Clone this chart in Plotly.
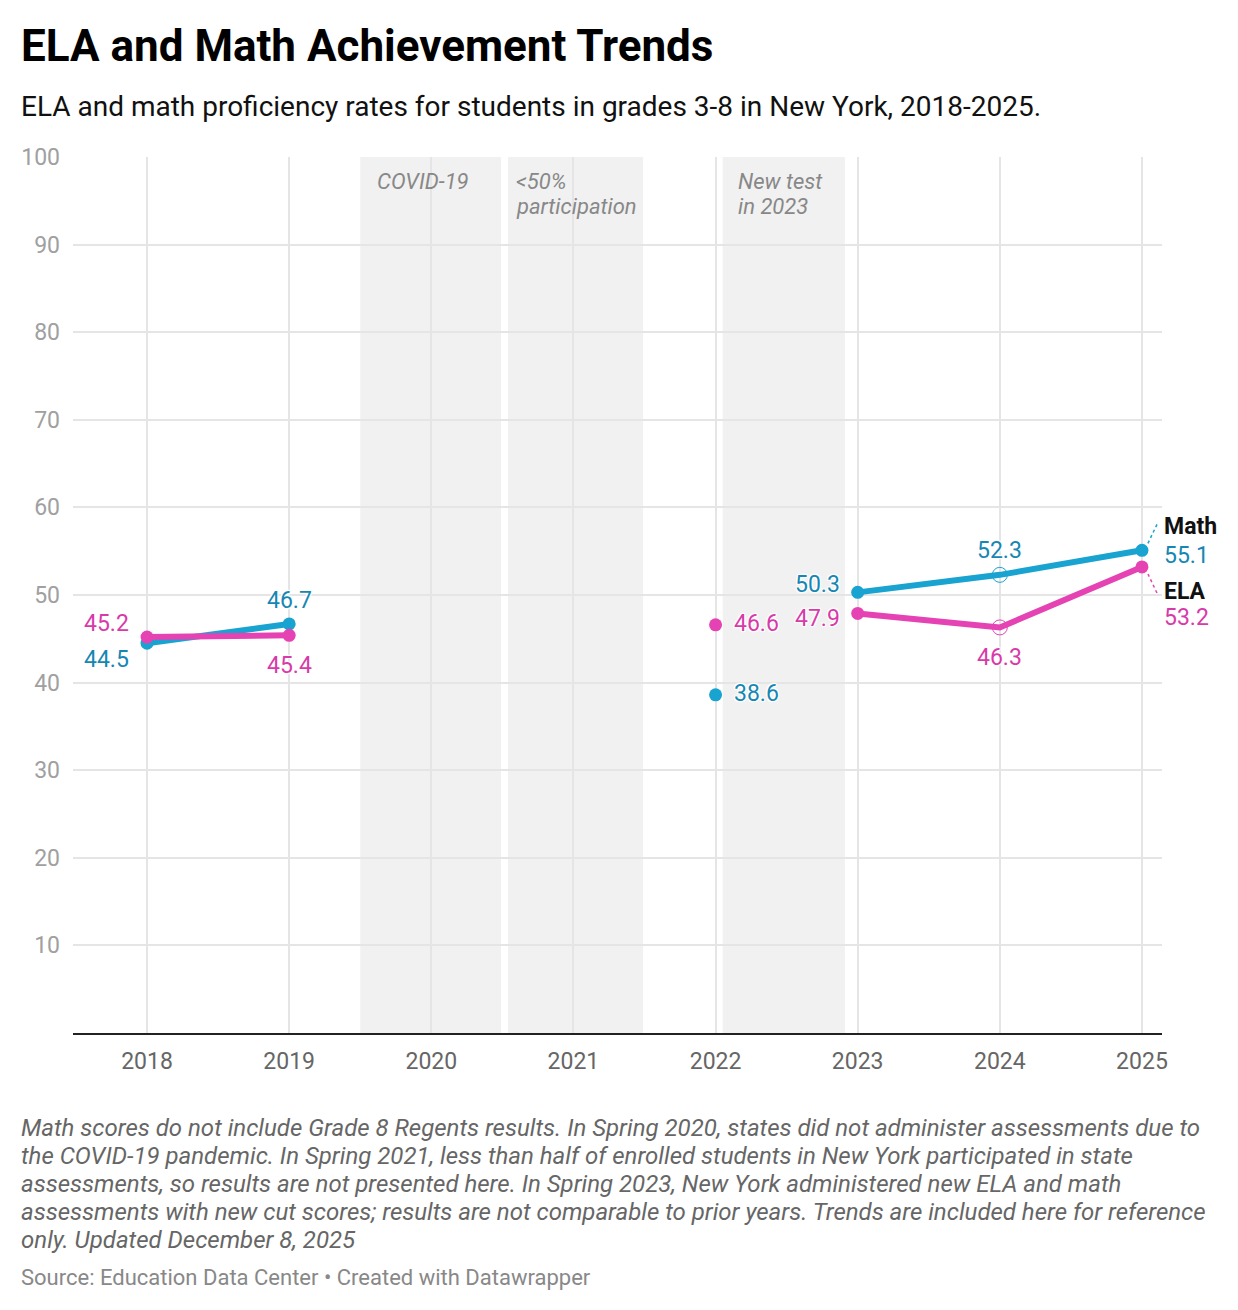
import plotly.graph_objects as go

# --- data ---
years = [2018, 2019, 2020, 2021, 2022, 2023, 2024, 2025]
math = [44.5, 46.7, None, None, 38.6, 50.3, 52.3, 55.1]
ela = [45.2, 45.4, None, None, 46.6, 47.9, 46.3, 53.2]
y_ticks = [10, 20, 30, 40, 50, 60, 70, 80, 90, 100]
# years that are joined by a line (test changes break the series)
segments = [[2018, 2019], [2022], [2023, 2024, 2025]]
hollow_years = [2024]

# shaded periods: (start, end, label lines)
bands = [
    (2019.5, 2020.49, ["COVID-19"]),
    (2020.54, 2021.49, ["<50%", "participation"]),
    (2022.05, 2022.91, ["New test", "in 2023"]),
]
band_text_shift = [15, 6, 13]

notes = [
    "Math scores do not include Grade 8 Regents results. In Spring 2020, states did not administer assessments due to",
    "the COVID-19 pandemic. In Spring 2021, less than half of enrolled students in New York participated in state",
    "assessments, so results are not presented here. In Spring 2023, New York administered new ELA and math",
    "assessments with new cut scores; results are not comparable to prior years. Trends are included here for reference",
    "only. Updated December 8, 2025",
]

MATH_LINE = "#18a3d0"
ELA_LINE = "#e543b3"
MATH_TXT = "#1687b3"
ELA_TXT = "#d83aa9"
FONT = "Roboto"
HALO = "1px 1px 1px white, -1px -1px 1px white, 1px -1px 1px white, -1px 1px 1px white, 0 0 3px white"

# the page body adds an 8px margin, so the figure is drawn 8px smaller/shifted
OFF = 8
W, H = 1238 - OFF, 1310 - OFF
L, R, T, B = 73 - OFF, 76, 157 - OFF, 277
plot_h = H - T - B


def py(pix):
    # pixel y on the screenshot -> paper y
    return (H - B - (pix - OFF)) / plot_h


def px(pix):
    return (pix - OFF - L) / (W - L - R)


fig = go.Figure()

# shaded bands
for (x0, x1, lines), shift in zip(bands, band_text_shift):
    fig.add_shape(type="rect", xref="x", yref="y", x0=x0, x1=x1, y0=0, y1=100,
                  fillcolor="#f1f1f1", line_width=0, layer="below")
    for i, lab in enumerate(lines):
        fig.add_annotation(x=x0, y=py(181 + 26 * i), xref="x", yref="paper", text=lab, showarrow=False,
                           xanchor="left", yanchor="middle", xshift=shift,
                           font=dict(family=FONT, size=22, color="#888888", style="italic"))

# lines, one trace per connected segment
for vals, col in [(math, MATH_LINE), (ela, ELA_LINE)]:
    lookup = dict(zip(years, vals))
    for seg in segments:
        if len(seg) < 2:
            continue
        fig.add_trace(go.Scatter(
            x=seg, y=[lookup[y] for y in seg], mode="lines",
            line=dict(color=col, width=6), hoverinfo="skip", showlegend=False,
        ))

# markers
for vals, col in [(math, MATH_LINE), (ela, ELA_LINE)]:
    xs = [y for y, v in zip(years, vals) if v is not None]
    ys = [v for v in vals if v is not None]
    fig.add_trace(go.Scatter(
        x=xs, y=ys, mode="markers",
        marker=dict(color=col, opacity=1,
                    size=[15 if y in hollow_years else 13 for y in xs],
                    symbol=["circle-open" if y in hollow_years else "circle" for y in xs],
                    line=dict(width=[1 if y in hollow_years else 0 for y in xs], color=col)),
        hoverinfo="skip", showlegend=False,
    ))

# data labels: year -> (xanchor, xshift, yshift)
math_pos = {2018: ("right", -16, -16), 2019: ("center", 0, 23), 2022: ("left", 16, 1),
            2023: ("right", -16, 8), 2024: ("center", 0, 24), 2025: ("left", 20, -5)}
ela_pos = {2018: ("right", -16, 14), 2019: ("center", 0, -30), 2022: ("left", 16, 1),
           2023: ("right", -16, -5), 2024: ("center", 0, -30), 2025: ("left", 20, -51)}

for vals, pos, col in [(math, math_pos, MATH_TXT), (ela, ela_pos, ELA_TXT)]:
    for yr, v in zip(years, vals):
        if v is None:
            continue
        xa, xs, ys = pos[yr]
        fig.add_annotation(x=yr, y=v, text=f"{v:.1f}", showarrow=False, xanchor=xa,
                           yanchor="middle", xshift=xs, yshift=ys,
                           font=dict(family=FONT, size=23, color=col, shadow=HALO))

# series names at the line ends
fig.add_annotation(x=years[-1], y=math[-1], text="<b>Math</b>", showarrow=False, xanchor="left",
                   xshift=20, yshift=24, font=dict(family=FONT, size=23, color="#111111", shadow=HALO))
fig.add_annotation(x=years[-1], y=ela[-1], text="<b>ELA</b>", showarrow=False, xanchor="left",
                   xshift=20, yshift=-25, font=dict(family=FONT, size=23, color="#111111", shadow=HALO))

# dotted leaders
fig.add_shape(type="line", xref="x", yref="y", xsizemode="pixel", ysizemode="pixel",
              xanchor=years[-1], yanchor=math[-1], x0=6, y0=7, x1=16, y1=28,
              line=dict(color=MATH_LINE, width=1.5, dash="dot"))
fig.add_shape(type="line", xref="x", yref="y", xsizemode="pixel", ysizemode="pixel",
              xanchor=years[-1], yanchor=ela[-1], x0=6, y0=-7, x1=15, y1=-26,
              line=dict(color=ELA_LINE, width=1.5, dash="dot"))

# title, subtitle, notes
fig.add_annotation(xref="paper", yref="paper", x=px(19), y=py(46), text="<b>ELA and Math Achievement Trends</b>",
                   showarrow=False, xanchor="left", yanchor="middle",
                   font=dict(family=FONT, size=44, color="#000000"))
fig.add_annotation(xref="paper", yref="paper", x=px(19), y=py(106),
                   text="ELA and math proficiency rates for students in grades 3-8 in New York, 2018-2025.",
                   showarrow=False, xanchor="left", yanchor="middle",
                   font=dict(family=FONT, size=28, color="#111111"))

for i, line in enumerate(notes):
    fig.add_annotation(xref="paper", yref="paper", x=px(19), y=py(1128 + 28 * i), text=line,
                       showarrow=False, xanchor="left", yanchor="middle",
                       font=dict(family=FONT, size=24, color="#666666", style="italic"))
fig.add_annotation(xref="paper", yref="paper", x=px(19), y=py(1277),
                   text="Source: Education Data Center • Created with Datawrapper", showarrow=False,
                   xanchor="left", yanchor="middle", font=dict(family=FONT, size=22, color="#888888"))

fig.update_layout(
    width=W, height=H,
    margin=dict(l=L, r=R, t=T, b=B),
    paper_bgcolor="white", plot_bgcolor="white",
    font=dict(family=FONT),
    xaxis=dict(range=[2017.479, 2025.141], tickvals=years, ticktext=[str(y) for y in years],
               showgrid=True, gridcolor="#e5e5e5", gridwidth=2, zeroline=False,
               showline=True, linecolor="#222222", linewidth=2, ticks="",
               tickfont=dict(family=FONT, size=23, color="#666666"), ticklabelstandoff=6),
    yaxis=dict(range=[0, 100], tickvals=y_ticks, showgrid=True, gridcolor="#e5e5e5", gridwidth=2,
               zeroline=False, showline=False, ticks="",
               tickfont=dict(family=FONT, size=23, color="#a0a0a0"), ticklabelstandoff=12),
)

fig.write_html("out.html")
